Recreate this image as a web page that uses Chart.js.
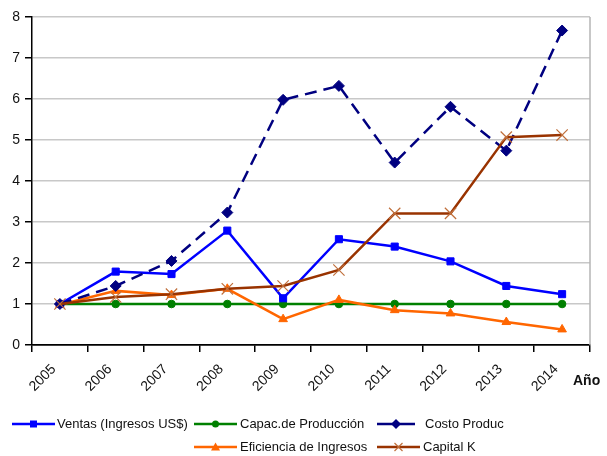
<!DOCTYPE html>
<html>
<head>
<meta charset="utf-8">
<script src="https://cdn.jsdelivr.net/npm/chart.js@4"></script>
<style>
  body { margin: 0; background: #fff; font-family: "Liberation Sans", Arial, sans-serif; }
  #wrap { position: relative; width: 607px; height: 456px; }
  #chart { position: absolute; left: 0; top: 0; }
  #axisTitle { position: absolute; left: 573px; top: 372px; font-weight: bold; font-size: 14px; color: #111; }
  .lg { position: absolute; height: 16px; }
  .lg svg { position: absolute; top: 1px; }
  .lg span { position: absolute; font-size: 13px; line-height: 16px; color: #111; white-space: nowrap; }
</style>
</head>
<body>
<div id="wrap">
  <canvas id="chart" width="607" height="456"></canvas>
  <div id="axisTitle">Año</div>
  <div id="legend"></div>
</div>
<script>
// data
const years = ['2005', '2006', '2007', '2008', '2009', '2010', '2011', '2012', '2013', '2014'];
const ventas = [1.00, 1.79, 1.73, 2.79, 1.14, 2.58, 2.40, 2.04, 1.44, 1.24];
const capacidad = [1.00, 1.00, 1.00, 1.00, 1.00, 1.00, 1.00, 1.00, 1.00, 1.00];
const costo = [1.00, 1.44, 2.05, 3.23, 5.98, 6.32, 4.45, 5.81, 4.74, 7.67];
const eficiencia = [0.98, 1.32, 1.22, 1.37, 0.63, 1.10, 0.85, 0.77, 0.56, 0.38];
const capitalK = [1.00, 1.17, 1.24, 1.37, 1.44, 1.83, 3.21, 3.21, 5.07, 5.12];
const yMin = 0, yMax = 8, yStep = 1;

const series = [
  { label: 'Ventas (Ingresos US$)', data: ventas, color: '#0000ff', marker: 'rect', r: 5, order: 2 },
  { label: 'Capac.de Producción', data: capacidad, color: '#008000', marker: 'circle', r: 3.8, order: 4 },
  { label: 'Costo Produc', data: costo, color: '#000080', marker: 'rectRot', r: 5.5, dash: [12, 7], order: 1 },
  { label: 'Eficiencia de Ingresos', data: eficiencia, color: '#ff6600', marker: 'triangle', r: 5, order: 3 },
  { label: 'Capital K', data: capitalK, color: '#993300', marker: 'crossRot', r: 8, markerColor: '#c0703c', order: 0 }
];

// right edge of the plot frame
const frame = {
  id: 'frame',
  beforeDatasetsDraw(chart) {
    const a = chart.chartArea, c = chart.ctx;
    c.save();
    c.strokeStyle = '#b4b4b4';
    c.lineWidth = 1.5;
    c.beginPath();
    c.moveTo(a.right, a.top);
    c.lineTo(a.right, a.bottom);
    c.stroke();
    c.restore();
  }
};

new Chart(document.getElementById('chart'), {
  type: 'line',
  data: {
    labels: years,
    datasets: series.map(s => ({
      label: s.label,
      data: s.data,
      borderColor: s.color,
      backgroundColor: s.markerColor || s.color,
      pointBorderColor: s.markerColor || s.color,
      pointBackgroundColor: s.markerColor || s.color,
      borderWidth: 2.5,
      borderDash: s.dash || [],
      pointStyle: s.marker,
      pointRadius: s.r,
      pointBorderWidth: s.marker === 'crossRot' ? 1.2 : 1,
      tension: 0,
      fill: false,
      order: s.order
    }))
  },
  options: {
    responsive: false,
    animation: false,
    layout: { padding: { top: 17, right: 17, left: 0, bottom: 0 } },
    plugins: { legend: { display: false }, tooltip: { enabled: false } },
    scales: {
      x: {
        offset: true,
        grid: { offset: true, drawOnChartArea: false, tickLength: 7, tickColor: '#000', lineWidth: 1.5 },
        border: { color: '#000', width: 1.5 },
        ticks: {
          minRotation: 45, maxRotation: 45,
          font: { family: '"Liberation Sans", Arial', size: 14 },
          color: '#111', padding: 9, labelOffset: -6
        },
        afterFit(s) { s.height = 111; }
      },
      y: {
        min: yMin,
        max: yMax,
        ticks: { stepSize: yStep, font: { family: '"Liberation Sans", Arial', size: 14 }, color: '#111', padding: 5 },
        grid: {
          color: ctx => (ctx.tick && ctx.tick.value === 0 ? '#000' : '#c8c8c8'),
          lineWidth: 1.5,
          tickLength: 7,
          tickColor: '#000'
        },
        border: { color: '#000', width: 1.5 },
        afterFit(s) { s.width = 32; }
      }
    }
  },
  plugins: [frame]
});

// HTML legend laid out like the original (two rows)
const legendPos = [
  { x: 12, y: 416, w: 43, tx: 57 },
  { x: 194, y: 416, w: 43, tx: 240 },
  { x: 377, y: 416, w: 38, tx: 425 },
  { x: 194, y: 439, w: 43, tx: 240 },
  { x: 377, y: 439, w: 43, tx: 423 }
];

function markerSvg(s, cx, cy) {
  const c = s.markerColor || s.color;
  switch (s.marker) {
    case 'rect': return `<rect x="${cx - 3.5}" y="${cy - 3.5}" width="7" height="7" fill="${c}"/>`;
    case 'circle': return `<circle cx="${cx}" cy="${cy}" r="3.5" fill="${c}"/>`;
    case 'rectRot': return `<polygon points="${cx},${cy - 5} ${cx + 5},${cy} ${cx},${cy + 5} ${cx - 5},${cy}" fill="${c}"/>`;
    case 'triangle': return `<polygon points="${cx},${cy - 4.5} ${cx + 4.5},${cy + 3.5} ${cx - 4.5},${cy + 3.5}" fill="${c}"/>`;
    case 'crossRot': return `<path d="M${cx - 4} ${cy - 4}L${cx + 4} ${cy + 4}M${cx + 4} ${cy - 4}L${cx - 4} ${cy + 4}" stroke="${c}" stroke-width="1.2"/>`;
  }
  return '';
}

const legend = document.getElementById('legend');
series.forEach((s, i) => {
  const p = legendPos[i];
  const d = document.createElement('div');
  d.className = 'lg';
  d.style.left = p.x + 'px';
  d.style.top = p.y + 'px';
  const cx = p.w / 2, cy = 7;
  d.innerHTML = `<svg width="${p.w}" height="14" style="left:0">` +
    `<line x1="0" y1="${cy}" x2="${p.w}" y2="${cy}" stroke="${s.color}" stroke-width="2.5"/>` +
    markerSvg(s, cx, cy) + `</svg>` +
    `<span style="left:${p.tx - p.x}px">${s.label}</span>`;
  legend.appendChild(d);
});
</script>
</body>
</html>
